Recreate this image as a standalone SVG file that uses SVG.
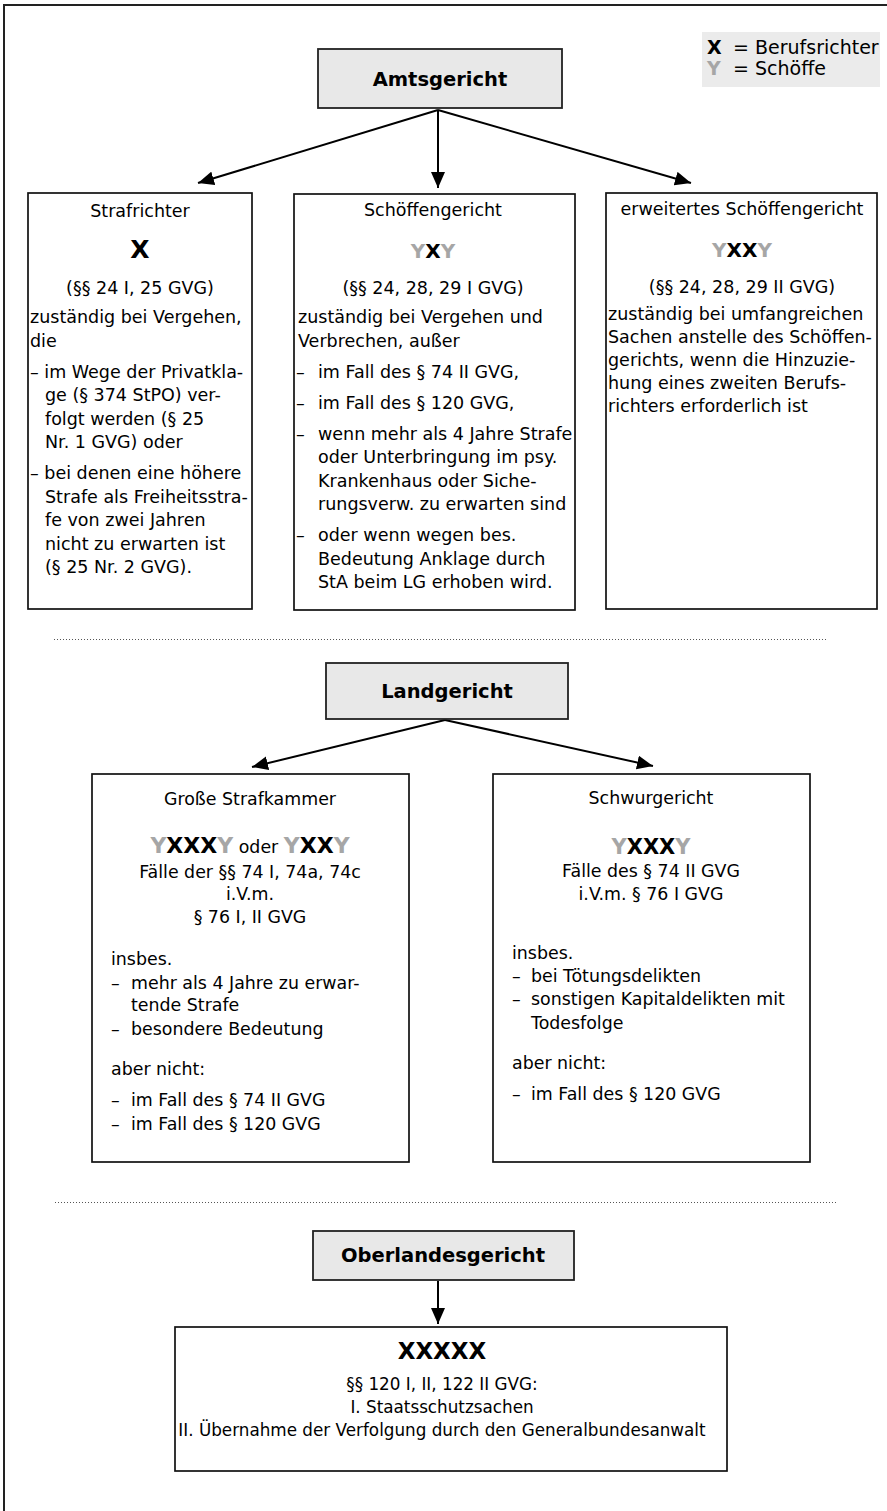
<svg xmlns="http://www.w3.org/2000/svg" width="887" height="1511" viewBox="0 0 887 1511">
<defs>
<style>
text{font-family:"DejaVu Sans",Verdana,sans-serif;fill:#000}
.t{font-size:17.5px}
.m{font-size:17.4px}
.b{font-size:16.8px}
.c{text-anchor:middle}
.h{font-weight:bold;font-size:19.5px;text-anchor:middle}
.xb{font-weight:bold}
.gy{fill:#a6a6a6}
.box{fill:#fff;stroke:#111;stroke-width:1.7}
.hbox{fill:#e8e8e8;stroke:#222;stroke-width:1.8}
.con{stroke:#000;stroke-width:2;fill:none;marker-end:url(#ah)}
.dot{stroke:#555;stroke-width:1;stroke-dasharray:1 2}
</style>
<marker id="ah" markerWidth="16" markerHeight="14" refX="16" refY="7" orient="auto" markerUnits="userSpaceOnUse">
<path d="M0,0 L16,7 L0,14 z" fill="#000"/>
</marker>
</defs>
<rect width="887" height="1511" fill="#fff"/>
<path d="M4,1511 V5 H887" fill="none" stroke="#222" stroke-width="2"/>

<g id="legend">
<rect x="702" y="32" width="178" height="55" fill="#ebebeb"/>
<text x="707" y="54" class="xb" font-size="19">X</text>
<text x="733" y="54" font-size="19">= Berufsrichter</text>
<text x="707" y="75" class="xb gy" font-size="19">Y</text>
<text x="733" y="75" font-size="19">= Schöffe</text>
</g>

<g id="connectors">
<line x1="438" y1="110" x2="198" y2="183" class="con"/>
<line x1="438" y1="110" x2="438" y2="188" class="con"/>
<line x1="438" y1="110" x2="691" y2="183" class="con"/>
<line x1="445" y1="720" x2="252" y2="767" class="con"/>
<line x1="445" y1="720" x2="653" y2="766" class="con"/>
<line x1="438" y1="1281" x2="438" y2="1324" class="con"/>
</g>

<g id="separators">
<line x1="54" y1="639.5" x2="828" y2="639.5" class="dot"/>
<line x1="55" y1="1202.5" x2="836" y2="1202.5" class="dot"/>
</g>

<g id="amtsgericht">
<rect x="318" y="49" width="244" height="59" class="hbox"/>
<text x="440" y="86" class="h">Amtsgericht</text>
</g>

<g id="strafrichter">
<rect x="28" y="193" width="224" height="416" class="box"/>
<text x="140" y="217" class="t c">Strafrichter</text>
<text x="140" y="258" class="xb c" font-size="25">X</text>
<text x="140" y="294" class="t c">(§§ 24 I, 25 GVG)</text>
<text x="30" y="323" class="t">zuständig bei Vergehen,</text>
<text x="30" y="346.5" class="t">die</text>
<text x="30" y="377.5" class="t">– im Wege der Privatkla-</text>
<text x="45" y="401" class="t">ge (§ 374 StPO) ver-</text>
<text x="45" y="424.5" class="t">folgt werden (§ 25</text>
<text x="45" y="448" class="t">Nr. 1 GVG) oder</text>
<text x="30" y="479" class="t">– bei denen eine höhere</text>
<text x="45" y="502.5" class="t">Strafe als Freiheitsstra-</text>
<text x="45" y="526" class="t">fe von zwei Jahren</text>
<text x="45" y="549.5" class="t">nicht zu erwarten ist</text>
<text x="45" y="573" class="t">(§ 25 Nr. 2 GVG).</text>
</g>

<g id="schoeffengericht">
<rect x="294" y="194" width="281" height="416" class="box"/>
<text x="433" y="216" class="t c">Schöffengericht</text>
<text x="433" y="258" class="xb c" font-size="20"><tspan class="gy">Y</tspan>X<tspan class="gy">Y</tspan></text>
<text x="433" y="294" class="t c">(§§ 24, 28, 29 I GVG)</text>
<text x="298" y="323" class="t">zuständig bei Vergehen und</text>
<text x="298" y="346.5" class="t">Verbrechen, außer</text>
<text x="296" y="377.5" class="t">–</text><text x="318" y="377.5" class="t">im Fall des § 74 II GVG,</text>
<text x="296" y="408.5" class="t">–</text><text x="318" y="408.5" class="t">im Fall des § 120 GVG,</text>
<text x="296" y="439.5" class="t">–</text><text x="318" y="439.5" class="t">wenn mehr als 4 Jahre Strafe</text>
<text x="318" y="463" class="t">oder Unterbringung im psy.</text>
<text x="318" y="486.5" class="t">Krankenhaus oder Siche-</text>
<text x="318" y="510" class="t">rungsverw. zu erwarten sind</text>
<text x="296" y="541" class="t">–</text><text x="318" y="541" class="t">oder wenn wegen bes.</text>
<text x="318" y="564.5" class="t">Bedeutung Anklage durch</text>
<text x="318" y="588" class="t">StA beim LG erhoben wird.</text>
</g>

<g id="erweitertes-schoeffengericht">
<rect x="606" y="193" width="271" height="416" class="box"/>
<text x="742" y="215" class="t c">erweitertes Schöffengericht</text>
<text x="742" y="257" class="xb c" font-size="20"><tspan class="gy">Y</tspan>XX<tspan class="gy">Y</tspan></text>
<text x="742" y="293" class="t c">(§§ 24, 28, 29 II GVG)</text>
<text x="608" y="320" class="t">zuständig bei umfangreichen</text>
<text x="608" y="343" class="t">Sachen anstelle des Schöffen-</text>
<text x="608" y="366" class="t">gerichts, wenn die Hinzuzie-</text>
<text x="608" y="389" class="t">hung eines zweiten Berufs-</text>
<text x="608" y="412" class="t">richters erforderlich ist</text>
</g>

<g id="landgericht">
<rect x="326" y="663" width="242" height="56" class="hbox"/>
<text x="447" y="698" class="h">Landgericht</text>
</g>

<g id="grosse-strafkammer">
<rect x="92" y="774" width="317" height="388" class="box"/>
<text x="250" y="805" class="m c">Große Strafkammer</text>
<text x="250" y="853" class="m c"><tspan class="xb" font-size="22"><tspan class="gy">Y</tspan>XXX<tspan class="gy">Y</tspan></tspan> oder <tspan class="xb" font-size="22"><tspan class="gy">Y</tspan>XX<tspan class="gy">Y</tspan></tspan></text>
<text x="250" y="878" class="m c">Fälle der §§ 74 I, 74a, 74c</text>
<text x="250" y="900" class="m c">i.V.m.</text>
<text x="250" y="923" class="m c">§ 76 I, II GVG</text>
<text x="111" y="965" class="m">insbes.</text>
<text x="111" y="989" class="m">–</text><text x="131" y="989" class="m">mehr als 4 Jahre zu erwar-</text>
<text x="131" y="1011" class="m">tende Strafe</text>
<text x="111" y="1035" class="m">–</text><text x="131" y="1035" class="m">besondere Bedeutung</text>
<text x="111" y="1075" class="m">aber nicht:</text>
<text x="111" y="1106" class="m">–</text><text x="131" y="1106" class="m">im Fall des § 74 II GVG</text>
<text x="111" y="1130" class="m">–</text><text x="131" y="1130" class="m">im Fall des § 120 GVG</text>
</g>

<g id="schwurgericht">
<rect x="493" y="774" width="317" height="388" class="box"/>
<text x="651" y="804" class="m c">Schwurgericht</text>
<text x="651" y="854" class="xb c" font-size="21"><tspan class="gy">Y</tspan>XXX<tspan class="gy">Y</tspan></text>
<text x="651" y="877" class="m c">Fälle des § 74 II GVG</text>
<text x="651" y="900" class="m c">i.V.m. § 76 I GVG</text>
<text x="512" y="959" class="m">insbes.</text>
<text x="512" y="982" class="m">–</text><text x="531" y="982" class="m">bei Tötungsdelikten</text>
<text x="512" y="1005" class="m">–</text><text x="531" y="1005" class="m">sonstigen Kapitaldelikten mit</text>
<text x="531" y="1029" class="m">Todesfolge</text>
<text x="512" y="1069" class="m">aber nicht:</text>
<text x="512" y="1100" class="m">–</text><text x="531" y="1100" class="m">im Fall des § 120 GVG</text>
</g>

<g id="oberlandesgericht">
<rect x="313" y="1231" width="261" height="49" class="hbox"/>
<text x="443" y="1262" class="h">Oberlandesgericht</text>
</g>

<g id="olg-senat">
<rect x="175" y="1327" width="552" height="144" class="box"/>
<text x="442" y="1359" class="xb c" font-size="23">XXXXX</text>
<text x="442" y="1390" class="b c">§§ 120 I, II, 122 II GVG:</text>
<text x="442" y="1413" class="b c">I. Staatsschutzsachen</text>
<text x="442" y="1436" class="b c">II. Übernahme der Verfolgung durch den Generalbundesanwalt</text>
</g>
</svg>
